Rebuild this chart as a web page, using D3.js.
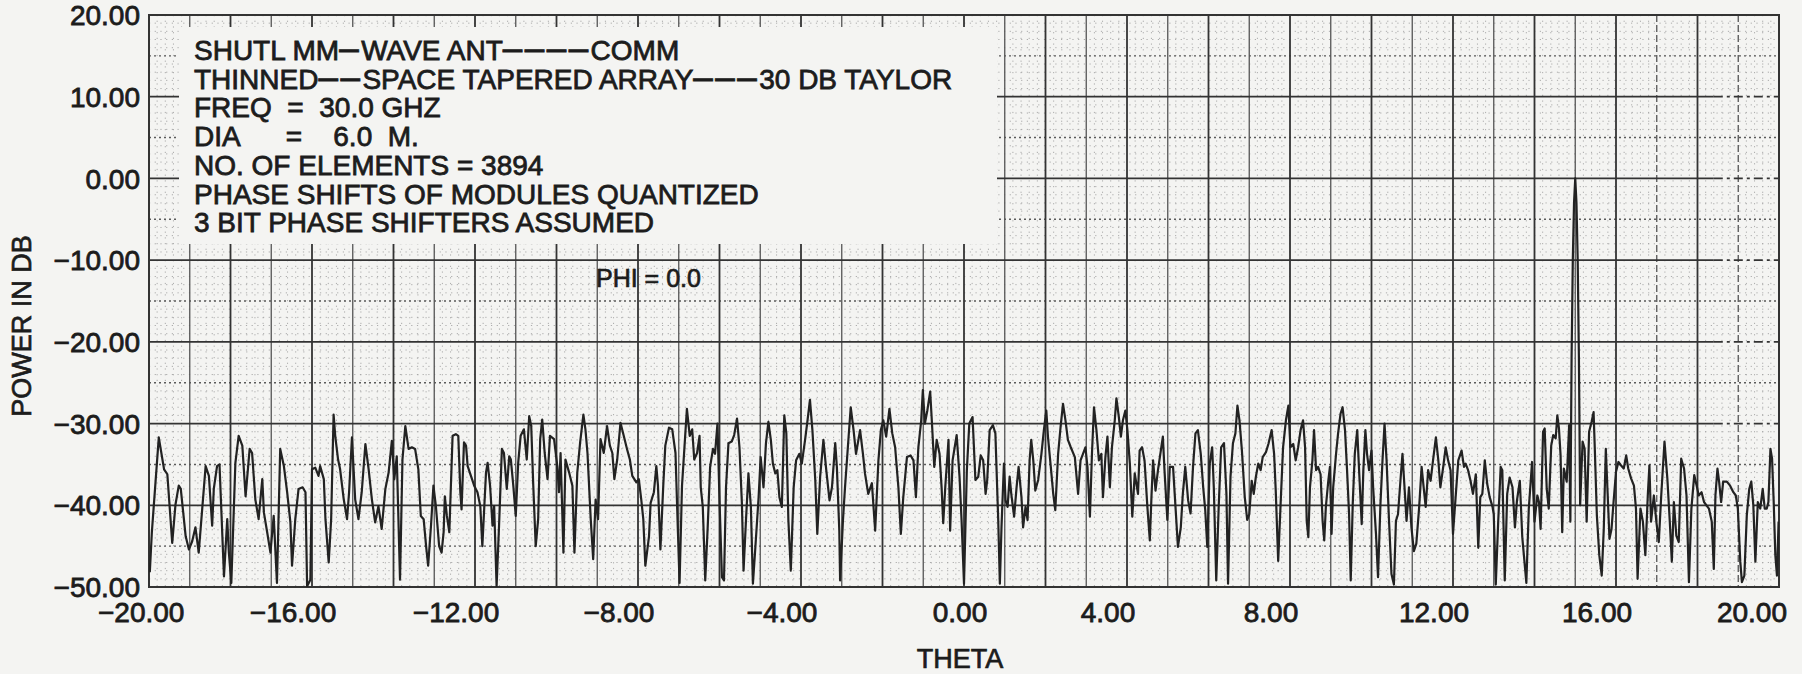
<!DOCTYPE html>
<html>
<head>
<meta charset="utf-8">
<script src="https://cdn.jsdelivr.net/npm/d3@7"></script>
<style>
  html, body { margin: 0; padding: 0; background: #f4f4f2; }
  svg { display: block; font-family: "Liberation Sans", Arial, sans-serif; }
</style>
</head>
<body>
<svg id="chart" width="1802" height="674"></svg>
<script>
// tick values
var xTicks = [-20, -16, -12, -8, -4, 0, 4, 8, 12, 16, 20];
var yTicks = [20, 10, 0, -10, -20, -30, -40, -50];

// annotation block
var notes = [
  "SHUTL MM–WAVE ANT––––COMM",
  "THINNED––SPACE TAPERED ARRAY–––30 DB TAYLOR",
  "FREQ  =  30.0 GHZ",
  "DIA      =    6.0  M.",
  "NO. OF ELEMENTS = 3894",
  "PHASE SHIFTS OF MODULES QUANTIZED",
  "3 BIT PHASE SHIFTERS ASSUMED"
];
var phiNote = "PHI = 0.0";

// pattern: [theta, power dB]
var pattern = [
  [-19.98,-48.2],[-19.93,-43.3],[-19.76,-31.7],[-19.63,-35.6],[-19.55,-36.2],[-19.43,-44.6],[-19.35,-39.9],[-19.27,-37.6],
  [-19.22,-38.0],[-19.10,-43.8],[-19.02,-45.4],[-18.94,-44.4],[-18.86,-42.7],[-18.78,-45.8],[-18.61,-35.2],[-18.53,-36.4],
  [-18.45,-42.5],[-18.41,-38.0],[-18.33,-35.2],[-18.27,-35.0],[-18.16,-48.7],[-18.08,-41.7],[-18.04,-45.8],[-17.98,-49.5],
  [-17.88,-34.8],[-17.80,-31.5],[-17.71,-32.7],[-17.63,-38.9],[-17.53,-33.1],[-17.47,-33.6],[-17.39,-39.3],[-17.31,-41.7],
  [-17.22,-36.8],[-17.18,-40.9],[-17.10,-43.3],[-17.02,-45.8],[-16.94,-41.3],[-16.86,-49.5],[-16.78,-33.1],[-16.69,-35.2],
  [-16.61,-38.4],[-16.53,-42.1],[-16.49,-47.4],[-16.41,-41.7],[-16.33,-38.0],[-16.23,-37.8],[-16.16,-38.4],[-16.12,-49.9],
  [-16.04,-49.1],[-16.00,-35.6],[-15.92,-35.4],[-15.84,-36.4],[-15.80,-35.2],[-15.71,-36.8],[-15.67,-41.7],[-15.59,-47.0],
  [-15.53,-41.7],[-15.47,-28.9],[-15.43,-31.5],[-15.36,-34.4],[-15.31,-35.6],[-15.22,-39.3],[-15.14,-41.7],[-15.09,-38.4],
  [-15.02,-31.7],[-14.94,-39.3],[-14.86,-41.7],[-14.78,-38.4],[-14.69,-32.5],[-14.61,-35.6],[-14.53,-39.3],[-14.45,-42.1],
  [-14.37,-40.1],[-14.29,-42.9],[-14.20,-38.0],[-14.12,-36.0],[-14.04,-32.1],[-13.98,-36.8],[-13.92,-34.0],[-13.84,-49.1],
  [-13.78,-34.4],[-13.71,-30.3],[-13.63,-33.1],[-13.55,-32.9],[-13.47,-33.1],[-13.39,-35.6],
  [-13.33,-41.3],[-13.26,-41.7],[-13.20,-45.0],[-13.15,-47.4],[-13.08,-42.5],[-13.02,-37.6],[-12.96,-40.1],[-12.88,-45.0],
  [-12.82,-45.8],[-12.77,-43.3],[-12.74,-38.9],[-12.69,-41.3],[-12.63,-43.3],[-12.55,-31.5],[-12.47,-31.3],[-12.41,-31.5],
  [-12.36,-38.4],[-12.33,-40.5],[-12.27,-32.3],[-12.22,-32.7],[-12.18,-35.2],[-12.10,-36.4],[-12.02,-37.6],[-11.94,-38.4],
  [-11.87,-40.1],[-11.82,-45.0],[-11.73,-36.0],[-11.69,-34.8],[-11.63,-37.6],[-11.57,-42.5],[-11.53,-40.1],[-11.47,-49.9],
  [-11.41,-42.5],[-11.34,-33.1],[-11.29,-33.6],[-11.22,-38.0],[-11.16,-34.0],[-11.12,-34.4],[-11.06,-37.6],[-11.00,-41.3],
  [-10.94,-34.8],[-10.88,-31.5],[-10.80,-30.7],[-10.73,-34.4],[-10.67,-29.1],[-10.62,-30.3],[-10.57,-37.6],[-10.51,-45.0],
  [-10.45,-41.7],[-10.40,-31.9],[-10.35,-29.5],[-10.29,-33.6],[-10.22,-36.8],[-10.16,-31.5],[-10.06,-31.9],[-9.98,-35.2],
  [-9.94,-38.4],[-9.90,-33.6],[-9.83,-45.8],[-9.78,-34.4],[-9.69,-36.0],[-9.61,-37.6],[-9.56,-45.8],[-9.49,-36.0],
  [-9.42,-32.3],[-9.34,-28.9],[-9.29,-30.7],[-9.24,-33.6],[-9.16,-41.7],[-9.10,-46.6],[-9.04,-39.3],[-8.98,-41.7],
  [-8.92,-31.9],[-8.84,-33.6],[-8.76,-30.3],[-8.69,-32.7],[-8.63,-33.6],[-8.58,-36.8],[-8.51,-34.4],[-8.43,-29.9],
  [-8.35,-31.5],[-8.27,-33.1],[-8.20,-34.4],[-8.14,-36.4],[-8.04,-37.2],[-7.98,-36.8],[-7.92,-39.3],[-7.87,-41.7],
  [-7.82,-47.4],[-7.73,-43.8],[-7.69,-39.7],[-7.61,-38.4],[-7.55,-35.2],[-7.51,-37.6],[-7.45,-45.4],[-7.38,-37.6],
  [-7.33,-32.7],[-7.24,-30.5],[-7.16,-30.7],[-7.08,-33.6],[-7.02,-43.3],[-6.98,-49.5],[-6.92,-37.6],[-6.80,-28.2],
  [-6.73,-31.5],[-6.67,-30.7],[-6.62,-34.4],[-6.55,-33.6],[-6.49,-31.5],
  [-6.46,-37.8],[-6.41,-40.2],[-6.35,-49.2],[-6.29,-42.7],[-6.23,-35.3],[-6.16,-33.1],[-6.11,-33.7],[-6.05,-30.0],
  [-6.00,-39.4],[-5.94,-48.8],[-5.89,-49.2],[-5.84,-37.8],[-5.78,-32.4],[-5.70,-32.2],[-5.64,-31.4],[-5.57,-29.4],
  [-5.51,-32.9],[-5.45,-39.8],[-5.41,-48.0],[-5.35,-41.8],[-5.29,-36.1],[-5.23,-40.2],[-5.18,-49.6],[-5.13,-45.9],
  [-5.04,-39.0],[-4.99,-34.1],[-4.92,-37.8],[-4.86,-32.4],[-4.80,-29.8],[-4.74,-32.0],[-4.69,-34.9],[-4.63,-36.1],
  [-4.58,-35.7],[-4.53,-39.0],[-4.47,-40.2],[-4.41,-29.0],[-4.36,-31.2],[-4.31,-41.8],[-4.25,-48.0],[-4.18,-37.8],
  [-4.12,-34.5],[-4.04,-33.7],[-3.98,-34.9],[-3.90,-32.0],[-3.84,-29.6],[-3.78,-27.1],[-3.72,-30.8],[-3.65,-36.9],
  [-3.60,-43.5],[-3.53,-36.5],[-3.45,-32.0],[-3.38,-35.7],[-3.30,-39.4],[-3.24,-37.8],[-3.16,-32.4],[-3.12,-35.3],
  [-3.06,-43.1],[-3.04,-49.2],[-2.97,-41.8],[-2.92,-37.8],[-2.85,-32.9],[-2.78,-28.0],[-2.71,-30.8],[-2.65,-33.7],
  [-2.55,-30.8],[-2.48,-33.7],[-2.43,-36.1],[-2.35,-38.6],[-2.26,-37.3],[-2.18,-43.1],[-2.10,-34.5],[-2.04,-30.8],
  [-1.98,-29.6],[-1.91,-31.6],[-1.83,-28.2],[-1.76,-31.2],[-1.69,-32.9],[-1.61,-37.8],[-1.55,-43.5],[-1.49,-39.0],
  [-1.40,-34.1],[-1.31,-33.9],[-1.24,-34.5],[-1.18,-39.0],[-1.12,-32.9],[-1.05,-29.6],[-1.01,-25.9],[-0.96,-30.0],
  [-0.90,-28.4],[-0.83,-26.1],[-0.79,-29.6],[-0.73,-35.3],[-0.67,-32.0],[-0.60,-33.7],[-0.55,-37.8],[-0.51,-42.2],
  [-0.46,-37.8],[-0.38,-32.0],[-0.34,-43.1],[-0.28,-34.5],[-0.18,-31.4],[-0.11,-36.5],[-0.06,-41.8],[0.00,-49.6],
  [0.07,-35.7],[0.13,-30.0],[0.21,-29.2],
  [0.28,-36.9],[0.35,-36.5],[0.41,-33.9],[0.47,-34.5],[0.53,-38.6],[0.57,-36.9],[0.63,-30.8],[0.71,-30.2],
  [0.77,-31.2],[0.84,-41.8],[0.88,-49.6],[0.92,-42.7],[0.98,-34.9],[1.02,-39.4],[1.07,-40.2],[1.12,-36.5],
  [1.16,-38.6],[1.23,-41.4],[1.29,-37.8],[1.34,-35.3],[1.41,-39.0],[1.45,-42.7],[1.51,-40.2],[1.56,-41.8],
  [1.61,-34.5],[1.65,-32.0],[1.70,-34.5],[1.75,-38.2],[1.82,-36.9],[1.90,-33.7],[1.96,-30.8],[2.02,-28.4],
  [2.06,-31.6],[2.13,-35.3],[2.19,-38.6],[2.24,-40.6],[2.31,-33.7],[2.37,-30.4],[2.43,-27.6],[2.49,-29.6],
  [2.55,-32.0],[2.62,-32.9],[2.72,-34.1],[2.80,-38.6],[2.86,-34.5],[2.92,-33.7],[2.98,-32.9],[3.03,-35.3],
  [3.09,-41.4],[3.14,-33.7],[3.19,-28.0],[3.25,-30.8],[3.31,-34.5],[3.37,-33.7],[3.41,-39.0],[3.47,-34.1],
  [3.52,-31.6],[3.58,-37.8],[3.63,-32.9],[3.70,-29.6],[3.74,-26.9],[3.80,-29.2],[3.85,-31.6],[3.90,-29.6],
  [3.96,-28.4],[4.01,-30.8],[4.07,-34.9],[4.13,-41.4],[4.19,-36.1],[4.27,-38.6],[4.31,-33.3],[4.37,-32.9],
  [4.43,-34.5],[4.50,-40.2],[4.56,-44.3],[4.60,-39.0],[4.64,-34.5],[4.70,-38.2],[4.76,-35.7],[4.83,-33.3],
  [4.88,-31.6],[4.92,-35.7],[4.99,-41.8],[5.05,-35.3],[5.13,-35.3],[5.19,-40.2],[5.25,-45.1],[5.32,-42.7],
  [5.37,-38.6],[5.43,-35.3],[5.50,-39.4],[5.56,-41.0],[5.62,-35.3],[5.68,-31.2],[5.74,-30.8],[5.81,-33.7],
  [5.87,-37.8],[5.92,-40.6],[5.97,-45.1],[6.03,-34.9],[6.09,-32.9],[6.13,-37.8],[6.19,-49.2],[6.25,-40.2],
  [6.31,-32.9],[6.38,-32.4],[6.44,-38.6],[6.48,-49.6],[6.54,-36.5],[6.60,-32.4],[6.66,-31.2],[6.71,-27.8],
  [6.76,-29.6],[6.82,-33.3],[6.89,-39.0],[6.95,-41.8],
  [7.00,-41.1],[7.06,-37.0],[7.11,-38.6],[7.16,-36.6],[7.22,-34.9],[7.28,-35.7],[7.33,-34.1],[7.41,-33.5],
  [7.47,-32.5],[7.55,-30.8],[7.61,-33.7],[7.65,-38.2],[7.71,-46.8],[7.77,-39.8],[7.83,-32.9],[7.90,-29.6],
  [7.96,-27.8],[8.01,-32.9],[8.08,-32.5],[8.14,-34.5],[8.20,-32.9],[8.26,-30.8],[8.32,-29.6],[8.37,-32.9],
  [8.41,-41.9],[8.45,-43.9],[8.49,-37.8],[8.55,-34.5],[8.59,-30.8],[8.64,-35.7],[8.69,-35.3],[8.75,-36.2],
  [8.80,-41.9],[8.84,-44.3],[8.88,-40.2],[8.94,-37.0],[8.98,-35.3],[9.02,-43.5],[9.06,-37.8],[9.13,-33.7],
  [9.18,-31.2],[9.24,-28.8],[9.29,-28.0],[9.35,-30.8],[9.40,-35.7],[9.45,-41.1],[9.49,-49.2],[9.54,-39.8],
  [9.59,-33.7],[9.65,-30.8],[9.70,-36.2],[9.76,-42.3],[9.80,-35.7],[9.85,-30.8],[9.89,-33.7],[9.94,-35.7],
  [10.00,-33.3],[10.04,-37.8],[10.11,-43.5],[10.16,-48.8],[10.22,-39.8],[10.27,-34.5],[10.32,-30.0],[10.37,-34.5],
  [10.43,-41.9],[10.49,-48.4],[10.55,-49.7],[10.60,-41.9],[10.65,-41.1],[10.71,-37.0],[10.76,-33.7],[10.82,-38.6],
  [10.86,-41.9],[10.92,-37.8],[10.98,-42.7],[11.04,-45.6],[11.10,-44.7],[11.17,-40.2],[11.23,-35.3],[11.28,-37.8],
  [11.33,-40.2],[11.39,-35.7],[11.45,-37.0],[11.51,-34.5],[11.58,-31.7],[11.64,-34.5],[11.69,-37.8],[11.76,-35.3],
  [11.82,-32.9],[11.88,-34.5],[11.94,-35.7],[12.00,-43.5],[12.07,-38.6],[12.13,-34.5],[12.21,-33.3],[12.27,-35.3],
  [12.31,-34.9],[12.37,-35.7],[12.43,-37.0],[12.49,-38.6],[12.56,-36.2],[12.62,-45.2],[12.67,-39.0],[12.72,-38.6],
  [12.78,-34.5],[12.84,-37.4],[12.90,-39.0],[12.97,-40.2],[13.00,-41.1],[13.05,-49.7],[13.11,-41.9],[13.17,-35.3],
  [13.21,-35.7],[13.27,-49.2],[13.33,-38.6],[13.39,-36.6],[13.46,-37.8],[13.52,-42.7],[13.57,-39.4],[13.64,-37.0],
  [13.70,-43.9],[13.80,-49.5],
  [13.86,-40.4],[13.94,-34.7],[14.00,-42.0],[14.07,-38.8],[14.11,-39.6],[14.15,-42.9],[14.21,-31.0],[14.25,-30.6],
  [14.30,-38.0],[14.35,-40.4],[14.41,-32.7],[14.46,-31.4],[14.52,-31.8],[14.56,-29.0],[14.60,-30.6],[14.64,-33.9],
  [14.68,-43.3],[14.72,-35.5],[14.79,-37.1],[14.85,-30.2],
  [14.88,-42.0],[14.91,-22.0],[14.94,-10.0],[14.97,-3.0],[15.00,0.0],[15.03,-3.0],[15.06,-10.0],[15.09,-22.0],[15.12,-40.0],
  [15.18,-32.2],[15.23,-33.1],[15.28,-42.0],[15.34,-31.0],[15.40,-29.8],[15.45,-28.6],[15.48,-33.1],[15.53,-41.2],
  [15.59,-46.1],[15.65,-48.6],[15.70,-42.9],[15.75,-33.1],[15.79,-38.0],[15.84,-44.1],[15.89,-42.9],[15.94,-39.6],
  [16.00,-35.9],[16.06,-34.7],[16.12,-35.1],[16.19,-35.5],[16.25,-33.9],[16.30,-35.5],[16.37,-36.7],[16.44,-37.6],
  [16.49,-40.4],[16.53,-49.0],[16.60,-40.4],[16.66,-42.0],[16.72,-46.1],[16.78,-38.8],[16.82,-35.1],[16.86,-42.0],
  [16.93,-38.8],[16.99,-42.0],[17.05,-44.5],[17.11,-38.8],[17.19,-32.2],[17.26,-36.7],[17.32,-42.0],[17.37,-46.9],
  [17.42,-39.6],[17.48,-43.7],[17.54,-44.5],[17.60,-34.3],[17.67,-35.5],[17.73,-38.8],[17.79,-49.4],[17.85,-40.4],
  [17.92,-36.3],[17.98,-37.6],[18.03,-38.8],[18.10,-38.4],[18.16,-39.6],[18.22,-40.0],[18.28,-40.4],[18.35,-42.0],
  [18.40,-47.8],[18.44,-38.8],[18.49,-35.5],[18.53,-37.1],[18.58,-39.6],[18.63,-37.1],[18.72,-37.1],[18.80,-37.6],
  [18.88,-38.4],[18.94,-38.8],[18.99,-40.4],[19.05,-46.9],[19.09,-49.4],[19.15,-48.6],[19.21,-41.2],[19.27,-38.0],
  [19.32,-37.1],[19.37,-40.0],[19.42,-46.9],[19.48,-39.6],[19.54,-40.4],[19.60,-38.0],[19.65,-40.4],[19.70,-40.4],
  [19.74,-39.6],[19.79,-33.1],[19.83,-34.3],[19.87,-39.6],[19.91,-46.1],[19.95,-48.6],[19.99,-42.0]
];

var svg = d3.select("#chart");
var plotL = 149, plotR = 1779, plotT = 15, plotB = 587;

var x = d3.scaleLinear().domain([-20, 20]).range([plotL, plotR]);
var y = d3.scaleLinear().domain([-50, 20]).range([plotB, plotT]);
var fmt = d3.format(".2f");
var ink = "#1c1c1c";

var grid = svg.append("g");

// fine dotted paper grid
grid.selectAll(".fx")
  .data(d3.range(-100, 101).filter(function(v) { return v % 5 !== 0; }).map(function(v) { return v / 5; }))
  .enter().append("line")
  .attr("x1", function(d) { return x(d); }).attr("x2", function(d) { return x(d); })
  .attr("y1", plotT).attr("y2", plotB)
  .attr("stroke", "#a4a4a4").attr("stroke-width", 0.9).attr("stroke-dasharray", "1.2,4.5");

grid.selectAll(".fy")
  .data(d3.range(-50, 21).filter(function(v) { return v % 5 !== 0; }))
  .enter().append("line")
  .attr("x1", plotL).attr("x2", plotR)
  .attr("y1", function(d) { return y(d); }).attr("y2", function(d) { return y(d); })
  .attr("stroke", "#a4a4a4").attr("stroke-width", 0.9).attr("stroke-dasharray", "1.2,4.5");

// 5 dB dotted lines
grid.selectAll(".hy")
  .data([15, 5, -5, -15, -25, -35, -45])
  .enter().append("line")
  .attr("x1", plotL).attr("x2", plotR)
  .attr("y1", function(d) { return y(d); }).attr("y2", function(d) { return y(d); })
  .attr("stroke", "#5a5a5a").attr("stroke-width", 1.4).attr("stroke-dasharray", "2,3");

// one degree lines
grid.selectAll(".mx")
  .data(d3.range(-19, 20))
  .enter().append("line")
  .attr("x1", function(d) { return x(d); }).attr("x2", function(d) { return x(d); })
  .attr("y1", plotT).attr("y2", plotB)
  .attr("stroke", function(d) { return d % 2 === 0 ? "#333" : "#555"; })
  .attr("stroke-width", function(d) { return d % 2 === 0 ? 1.8 : 1.3; })
  .attr("stroke-dasharray", function(d) { return d > 16 && d % 2 !== 0 ? "7,3" : null; });

// 10 dB lines, plotter dashes near the right edge
grid.selectAll(".my")
  .data(yTicks)
  .enter().append("line")
  .attr("x1", plotL).attr("x2", x(18.4))
  .attr("y1", function(d) { return y(d); }).attr("y2", function(d) { return y(d); })
  .attr("stroke", "#333").attr("stroke-width", 1.8);

grid.selectAll(".myd")
  .data(yTicks)
  .enter().append("line")
  .attr("x1", x(18.4)).attr("x2", plotR)
  .attr("y1", function(d) { return y(d); }).attr("y2", function(d) { return y(d); })
  .attr("stroke", "#333").attr("stroke-width", 1.8).attr("stroke-dasharray", "9,4,3,4");

grid.append("rect")
  .attr("x", plotL).attr("y", plotT)
  .attr("width", plotR - plotL).attr("height", plotB - plotT)
  .attr("fill", "none").attr("stroke", "#333").attr("stroke-width", 2);

// blank paper behind the notes
svg.append("rect")
  .attr("x", 179).attr("y", 27)
  .attr("width", 818).attr("height", 217)
  .attr("fill", "#f4f4f2");

// pattern trace
svg.append("clipPath").attr("id", "plotClip")
  .append("rect").attr("x", plotL).attr("y", plotT)
  .attr("width", plotR - plotL).attr("height", plotB - plotT);

var line = d3.line()
  .x(function(d) { return x(d[0]); })
  .y(function(d) { return y(d[1]); });

svg.append("path")
  .datum(pattern)
  .attr("clip-path", "url(#plotClip)")
  .attr("d", line)
  .attr("fill", "none")
  .attr("stroke", "#222")
  .attr("stroke-width", 2.2)
  .attr("stroke-linejoin", "round");

// axis labels
svg.append("g").selectAll("text")
  .data(yTicks)
  .enter().append("text")
  .attr("x", 140)
  .attr("y", function(d) { return y(d); })
  .attr("dy", "0.36em")
  .attr("text-anchor", "end")
  .attr("font-size", 28)
  .attr("fill", ink).attr("stroke", ink).attr("stroke-width", 0.8)
  .text(function(d) { return fmt(d); });

svg.append("g").selectAll("text")
  .data(xTicks)
  .enter().append("text")
  .attr("y", 622)
  .attr("text-anchor", "middle")
  .attr("font-size", 28)
  .attr("fill", ink).attr("stroke", ink).attr("stroke-width", 0.8)
  .text(function(d) { return fmt(d); })
  .attr("x", function(d) {
    var w = this.getComputedTextLength();
    var cx = x(d) + (d === 0 ? -4 : -19);
    return Math.max(98 + w / 2, Math.min(1787 - w / 2, cx));
  });

svg.append("text")
  .attr("x", 960).attr("y", 668)
  .attr("text-anchor", "middle")
  .attr("font-size", 27)
  .attr("fill", ink).attr("stroke", ink).attr("stroke-width", 0.7)
  .text("THETA");

svg.append("text")
  .attr("transform", "translate(31,326) rotate(-90)")
  .attr("text-anchor", "middle")
  .attr("font-size", 27)
  .attr("fill", ink).attr("stroke", ink).attr("stroke-width", 0.7)
  .text("POWER IN DB");

// notes, dash runs drawn longer like the typed original
var noteText = svg.append("g")
  .attr("font-size", 28)
  .attr("fill", ink).attr("stroke", ink).attr("stroke-width", 0.8)
  .style("white-space", "pre");

notes.forEach(function(s, i) {
  var t = noteText.append("text")
    .attr("x", 194)
    .attr("y", 60 + i * 28.7)
    .attr("xml:space", "preserve");
  s.split(/(–+)/).forEach(function(part) {
    if (!part) return;
    var ts = t.append("tspan").text(part);
    if (part[0] === "–") ts.attr("font-size", 35).attr("letter-spacing", "2.5");
  });
});

svg.append("text")
  .attr("x", 596).attr("y", 287)
  .attr("font-size", 25)
  .attr("fill", ink).attr("stroke", ink).attr("stroke-width", 0.7)
  .text(phiNote);
</script>
</body>
</html>
